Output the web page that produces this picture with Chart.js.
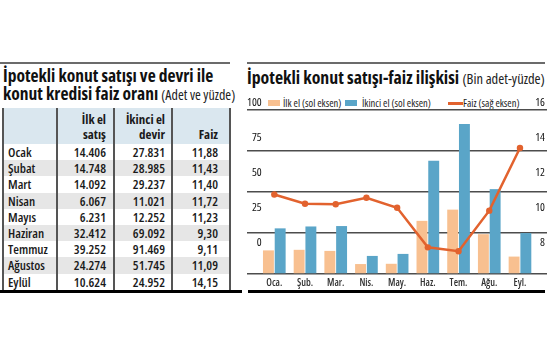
<!DOCTYPE html>
<html><head><meta charset="utf-8">
<script src="https://cdn.jsdelivr.net/npm/chart.js@4.4.1/dist/chart.umd.min.js"></script>
<style>
html,body{margin:0;padding:0;background:#fff}
body{width:555px;height:355px;position:relative;overflow:hidden;font-family:'Open Sans',sans-serif;font-stretch:75%;color:#111}
.abs{position:absolute;white-space:nowrap}
.rule{position:absolute;background:#6b6b6b;height:2px}
.title{font-size:17.5px;font-weight:700;line-height:18px}
.sub{font-size:14px;font-weight:400;color:#222}
.vline{position:absolute;width:1.5px;background:#555;top:108px;height:182px}
.cell{position:absolute;font-size:13px;font-weight:600;line-height:16px;color:#1a1a1a}
.hd{font-weight:700}
.leg{position:absolute;font-size:10.5px;line-height:12px;top:97px;color:#222}
.sw{position:absolute}
canvas{position:absolute}
</style></head>
<body>
<div class="rule" style="left:0;top:62px;width:230px"></div>
<div class="rule" style="left:247px;top:62px;width:298px"></div>

<div class="abs title" style="left:3px;top:66px">İpotekli konut satışı ve devri ile<br>konut kredisi faiz oranı <span class="sub">(Adet ve yüzde)</span></div>
<div class="abs title" style="left:247px;top:67px;line-height:20px;font-size:17.8px">İpotekli konut satışı-faiz ilişkisi <span class="sub" style="font-stretch:87.5%;font-size:14.5px">(Bin adet-yüzde)</span></div>

<div id="table"></div>

<div class="sw" style="left:268px;top:100px;width:12px;height:6px;background:#f8c090"></div>
<div class="leg" style="left:283px">İlk el (sol eksen)</div>
<div class="sw" style="left:345px;top:100px;width:12px;height:6px;background:#5aa5c8"></div>
<div class="leg" style="left:362px">İkinci el (sol eksen)</div>
<div class="sw" style="left:448px;top:101.5px;width:15px;height:3px;background:#e2622e"></div>
<div class="leg" style="left:463px">Faiz (sağ eksen)</div>

<canvas id="chart" width="315" height="205" style="left:240px;top:95px"></canvas>

<div class="abs" style="left:0;top:290px;width:242px;height:3px;background:#000"></div>
<div class="abs" style="left:248px;top:290px;width:297px;height:3px;background:#000"></div>

<script>
// ---- data ----
const months = ['Ocak','Şubat','Mart','Nisan','Mayıs','Haziran','Temmuz','Ağustos','Eylül'];
const monthsShort = ['Oca.','Şub.','Mar.','Nis.','May.','Haz.','Tem.','Ağu.','Eyl.'];
const ilkEl = [14406,14748,14092,6067,6231,32412,39252,24274,10624];
const ikinciEl = [27831,28985,29237,11021,12252,69092,91469,51745,24952];
const faiz = [11.88,11.43,11.40,11.72,11.23,9.30,9.11,11.09,14.15];
const leftTicks = [0,25,50,75,100];
const rightTicks = [8,10,12,14,16];
const tableHeaders = [['',''],['İlk el','satış'],['İkinci el','devir'],['','Faiz']];

// ---- table ----
const fmtInt = v => String(v).replace(/\B(?=(\d{3})+(?!\d))/g,'.');
const fmtDec = v => v.toFixed(2).replace('.',',');
const colEdges = [3,57,114,172,230];
const colRight = [null,106,165,218];
const tbl = document.getElementById('table');
let html = '';
html += `<div class="abs" style="left:3px;top:108px;width:227px;height:36px;background:#dae7ef"></div>`;
const rowTop = 144, rowH = 16.2;
months.forEach((m,i)=>{
  const top = rowTop + i*rowH;
  if (i%2===1) html += `<div class="abs" style="left:3px;top:${top}px;width:227px;height:${rowH}px;background:#e6e6e6"></div>`;
  const vals = [m, fmtInt(ilkEl[i]), fmtInt(ikinciEl[i]), fmtDec(faiz[i])];
  vals.forEach((t,c)=>{
    if (c===0) html += `<div class="cell" style="left:8px;top:${top}px">${t}</div>`;
    else html += `<div class="cell" style="right:${555-colRight[c]}px;top:${top}px">${t}</div>`;
  });
});
tableHeaders.forEach((h,c)=>{
  if (c===0) return;
  h.forEach((t,r)=>{ if(t) html += `<div class="cell hd" style="right:${555-colRight[c]}px;top:${111+r*15}px">${t}</div>`; });
});
colEdges.forEach(x=>{ html += `<div class="vline" style="left:${x-0.75}px"></div>`; });
tbl.innerHTML = html;

// ---- chart ----
const FAM = "'Open Sans'";
const xy = (arr, k) => arr.map((v,i)=>({x:i, y:v/k}));
new Chart(document.getElementById('chart'), {
  type: 'bar',
  data: {
    datasets: [
      { type:'line', label:'Faiz (sağ eksen)', data: xy(faiz,1), yAxisID:'y1', order:0,
        borderColor:'#e2622e', backgroundColor:'#e2622e', borderWidth:2.5,
        pointRadius:3.2, pointBackgroundColor:'#e2622e', pointBorderWidth:0, tension:0 },
      { label:'İlk el (sol eksen)', data: xy(ilkEl,1000), yAxisID:'y', order:1,
        backgroundColor:'#f8c090', categoryPercentage:0.765, barPercentage:0.93 },
      { label:'İkinci el (sol eksen)', data: xy(ikinciEl,1000), yAxisID:'y', order:1,
        backgroundColor:'#5aa5c8', categoryPercentage:0.765, barPercentage:0.93 }
    ]
  },
  options: {
    responsive:false, animation:false, devicePixelRatio:1,
    layout:{ padding:{ left:7, right:8, top:15, bottom:6 } },
    plugins:{ legend:{display:false}, tooltip:{enabled:false} },
    scales:{
      x:{ type:'linear', min:-0.889, max:8.88, offset:false,
          grid:{display:false, drawTicks:false}, border:{display:false},
          afterBuildTicks: s => { s.ticks = monthsShort.map((_,i)=>({value:i})); },
          afterFit: s => { s.height = 20; },
          ticks:{ autoSkip:false, maxRotation:0, padding:3, color:'#333',
                  font:{family:FAM, size:10, weight:'condensed 600'},
                  callback: v => monthsShort[v] ?? '' } },
      y:{ position:'left', min:0, max:100,
          grid:{ color:'#4d4d4d', lineWidth:1.5, drawTicks:false },
          border:{display:false}, ticks:{display:false},
          afterBuildTicks: s => { s.ticks = leftTicks.map(v=>({value:v})); },
          afterFit: s => { s.width = 0; } },
      y1:{ position:'right', min:8, max:16, display:false },
      yl:{ position:'left', min:-22.14, max:95, grid:{display:false, drawTicks:false}, border:{display:false},
           afterBuildTicks: s => { s.ticks = leftTicks.map(v=>({value:v})); },
           afterFit: s => { s.width = 0; },
           ticks:{ mirror:true, crossAlign:'far', padding:0, autoSkip:false, color:'#111',
                   font:{family:FAM, size:11.5, weight:'condensed 400'} } },
      yr:{ position:'right', min:6.229, max:15.6, grid:{display:false, drawTicks:false}, border:{display:false},
           afterBuildTicks: s => { s.ticks = rightTicks.map(v=>({value:v})); },
           afterFit: s => { s.width = 0; },
           ticks:{ mirror:true, crossAlign:'near', padding:-2, autoSkip:false, color:'#111',
                   font:{family:FAM, size:11.5, weight:'condensed 400'} } }
    }
  }
});
</script>
</body></html>
